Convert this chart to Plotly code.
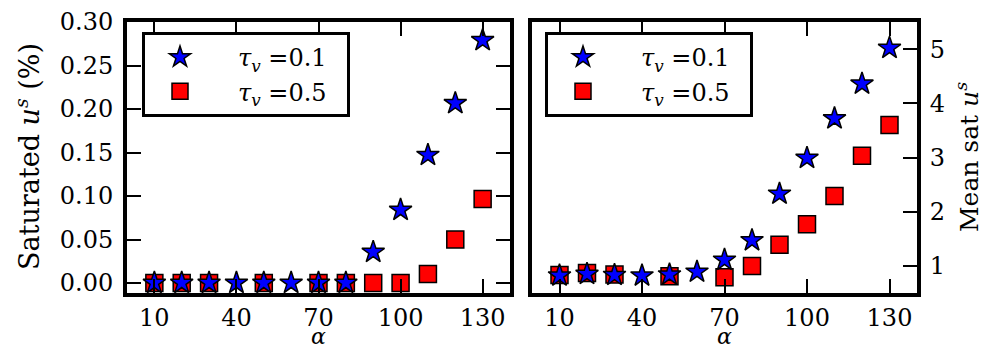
import numpy as np
import plotly.graph_objects as go

# Coupling strength alpha
alpha = [10, 20, 30, 40, 50, 60, 70, 80, 90, 100, 110, 120, 130]

# Fraction of saturated units (%)
sat_tau01 = [0.0, 0.0, 0.0, 0.0, 0.0, 0.0, 0.0, 0.0, 0.0356, 0.0839, 0.147, 0.2066, 0.279]
sat_tau05 = [0.0, 0.0, 0.0, None, 0.0, None, 0.0, 0.0, 0.0, 0.0, 0.0103, 0.0500, 0.0966]

# Mean saturation level
mean_tau01 = [0.82, 0.85, 0.83, 0.82, 0.84, 0.89, 1.11, 1.47, 2.33, 2.99, 3.72, 4.36, 5.02]
mean_tau05 = [0.83, 0.87, 0.84, None, 0.81, None, 0.79, 1.00, 1.39, 1.77, 2.29, 3.03, 3.60]

x_ticks = [10, 40, 70, 100, 130]

NB = "\u00a0"
names = [NB * 3 + "<i>τ</i><sub><i>v</i></sub> =0.1" + NB * 2,
         NB * 3 + "<i>τ</i><sub><i>v</i></sub> =0.5" + NB * 2]

FONT = "DejaVu Serif"
FS = 24

star = dict(symbol="star", size=17, color="#0000ff", line=dict(color="black", width=1.5))
square = dict(symbol="square", size=17, color="#ff0000", line=dict(color="black", width=1.5))

fig = go.Figure()

# left panel
fig.add_trace(go.Scatter(x=alpha, y=sat_tau05, mode="markers", marker=square, name=names[1],
                         xaxis="x", yaxis="y", legend="legend", legendrank=2))
fig.add_trace(go.Scatter(x=alpha, y=sat_tau01, mode="markers", marker=star, name=names[0],
                         xaxis="x", yaxis="y", legend="legend", legendrank=1))
# right panel
fig.add_trace(go.Scatter(x=alpha, y=mean_tau05, mode="markers", marker=square, name=names[1],
                         xaxis="x2", yaxis="y2", legend="legend2", legendrank=2))
fig.add_trace(go.Scatter(x=alpha, y=mean_tau01, mode="markers", marker=star, name=names[0],
                         xaxis="x2", yaxis="y2", legend="legend2", legendrank=1))

L, R, T, B = 127, 67, 22, 60
W, H = 984, 353
pw = W - L - R
ph = H - T - B
d1 = [0, (510 - L) / pw]
d2 = [(532 - L) / pw, 1]


def px_x(px):
    return (px - L) / pw


def px_y(py):
    return (H - B - py) / ph


axis_common = dict(
    showline=True, linecolor="black", linewidth=4, mirror="ticks",
    ticks="inside", ticklen=14, tickwidth=1.5, tickcolor="black",
    showgrid=False, zeroline=False, automargin=False,
    tickfont=dict(family=FONT, size=FS, color="black"),
)

xcommon = dict(axis_common, range=[0, 140], tickvals=x_ticks, ticklabelstandoff=0)

legend_common = dict(
    bgcolor="white", bordercolor="black", borderwidth=3,
    font=dict(family=FONT, size=FS, color="black"),
    xanchor="left", yanchor="top", itemwidth=60, tracegroupgap=0,
)

title_font = dict(family=FONT, color="black")

fig.update_layout(
    width=W, height=H,
    margin=dict(l=L, r=R, t=T, b=B, autoexpand=False),
    paper_bgcolor="white", plot_bgcolor="white",
    showlegend=True,
    xaxis=dict(xcommon, domain=d1, anchor="y"),
    xaxis2=dict(xcommon, domain=d2, anchor="y2"),
    yaxis=dict(axis_common, domain=[0, 1], anchor="x", range=[-0.0115, 0.30],
               tickvals=[0, 0.05, 0.10, 0.15, 0.20, 0.25, 0.30], tickformat=".2f",
               ticklabelstandoff=5),
    yaxis2=dict(axis_common, domain=[0, 1], anchor="x2", side="right", mirror=True,
                range=[0.5, 5.5], tickvals=[1, 2, 3, 4, 5], ticklabelstandoff=4),
    legend=dict(legend_common, x=px_x(142), y=px_y(32)),
    legend2=dict(legend_common, x=px_x(545), y=px_y(32)),
    annotations=[
        dict(text="Saturated <i>u</i><sup><i>s</i></sup> (%)", textangle=-90,
             xref="paper", yref="paper", x=px_x(27), y=px_y(157), showarrow=False,
             xanchor="center", yanchor="middle", font=dict(title_font, size=27)),
        dict(text="Mean sat <i>u</i><sup><i>s</i></sup>", textangle=-90,
             xref="paper", yref="paper", x=px_x(967), y=px_y(157), showarrow=False,
             xanchor="center", yanchor="middle", font=dict(title_font, size=25)),
        dict(text="<i>α</i>", xref="paper", yref="paper", x=px_x(318.5), y=px_y(351),
             showarrow=False, xanchor="center", yanchor="bottom", font=dict(title_font, size=22)),
        dict(text="<i>α</i>", xref="paper", yref="paper", x=px_x(724.5), y=px_y(351),
             showarrow=False, xanchor="center", yanchor="bottom", font=dict(title_font, size=22)),
    ],
)

fig.write_html("out.html")
